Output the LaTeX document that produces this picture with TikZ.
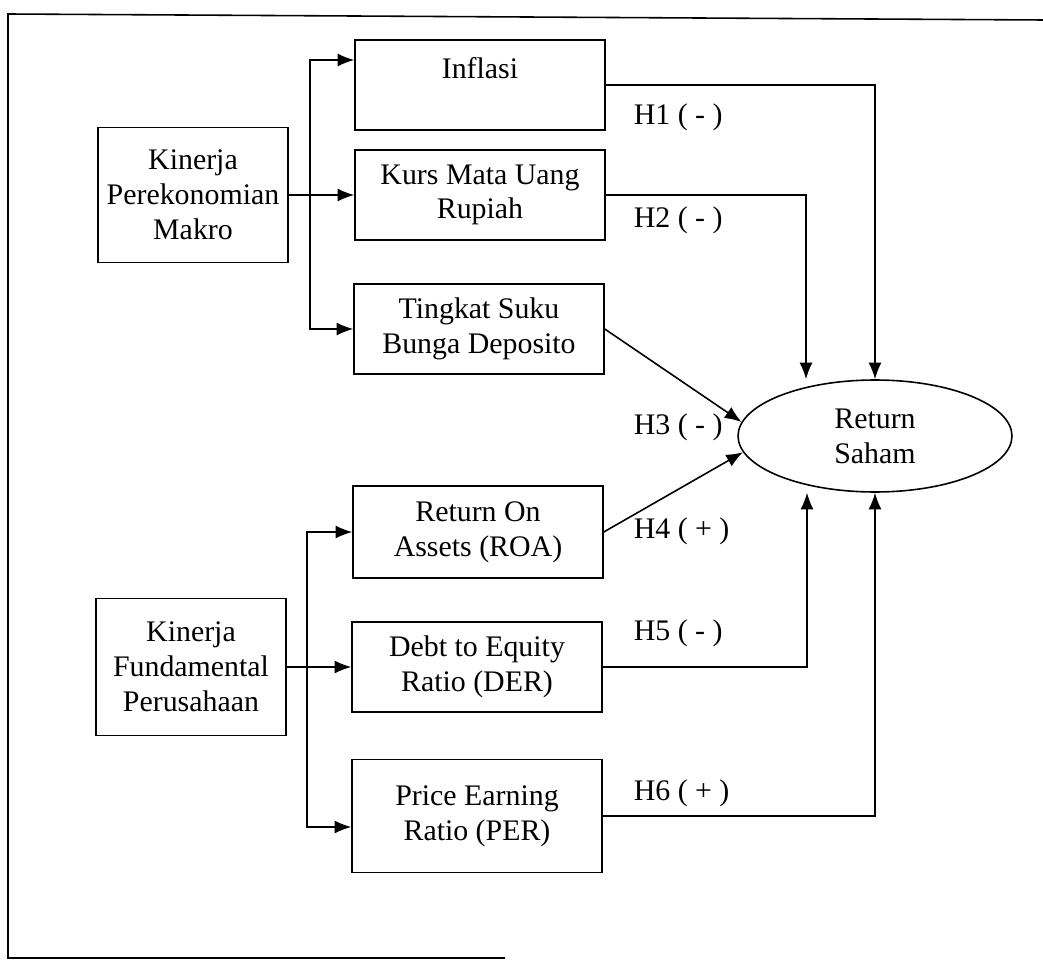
\documentclass[tikz,border=0pt]{standalone}
\usepackage{fontspec}
\setmainfont{Liberation Serif}
\usetikzlibrary{arrows.meta,shapes.geometric,calc}

\begin{document}
\begin{tikzpicture}[x=0.02cm, y=-0.02cm, line width=0.9pt,
    font=\fontsize{17}{19.8}\selectfont,
    varbox/.style={draw, align=center, minimum width=5cm, minimum height=1.8cm, inner sep=2pt},
    kinbox/.style={draw, align=center, minimum width=3.8cm, minimum height=2.7cm, inner sep=2pt},
    arr/.style={-{Latex[length=9.5pt,width=7.5pt]}}]
    \useasboundingbox (0,0) rectangle (1043,962);

    % Draw the outer frame
    \draw (1043,20) -- (8,14) -- (8,958) -- (505,958);

    % Draw the two left boxes
    \node[kinbox] (makro) at (193,195) {Kinerja\\Perekonomian\\Makro};
    \node[kinbox, minimum height=2.74cm] (fundamental) at (191,667) {Kinerja\\Fundamental\\Perusahaan};

    % Draw the variable boxes
    \node[varbox] (inflasi) at (480,85) {Inflasi\\ \mbox{}};
    \node[varbox] (kurs) at (480,195) {Kurs Mata Uang\\Rupiah};
    \node[varbox] (tingkat) at (479,329) {Tingkat Suku\\Bunga Deposito};
    \node[varbox, minimum height=1.84cm] (roa) at (478,532) {Return On\\Assets (ROA)};
    \node[varbox] (der) at (477,667) {Debt to Equity\\Ratio (DER)};
    \node[varbox, minimum height=2.26cm] (per) at (477,816) {Price Earning\\Ratio (PER)};

    % Draw the dependent variable
    \node[draw, ellipse, minimum width=5.48cm, minimum height=2.24cm, align=center] (saham) at (875,436) {Return\\Saham};

    % Arrows from the left boxes
    \coordinate (jm) at (310,195);
    \draw[arr] (makro.east) -- (kurs.west);
    \draw[arr] (jm) |- ($(inflasi.west)+(0,-25)$);
    \draw[arr] (jm) |- (tingkat.west);

    \coordinate (jf) at (307,667);
    \draw[arr] (fundamental.east) -- (der.west);
    \draw[arr] (jf) |- (roa.west);
    \draw[arr] (jf) |- ($(per.west)+(0,11)$);

    % Arrows into Return Saham
    \draw[arr] (inflasi.east) -| (saham.north);
    \draw[arr] (kurs.east) -| ($(saham.north)+(-69,0)$);
    \draw[arr] (tingkat.east) -- (saham.174);
    \draw[arr] (roa.east) -- (saham.187);
    \draw[arr] (der.east) -| ($(saham.south)+(-68,0)$);
    \draw[arr] (per.east) -| (saham.south);

    % Hypothesis labels
    \foreach \n/\y/\h in {1/117/H1 ( - ), 2/220/H2 ( - ), 3/427/H3 ( - ), 4/531/H4 ( + ), 5/633/H5 ( - ), 6/793/H6 ( + )}
        \node[anchor=west, inner sep=0pt] (h\n) at (633,\y) {\h};
\end{tikzpicture}
\end{document}
